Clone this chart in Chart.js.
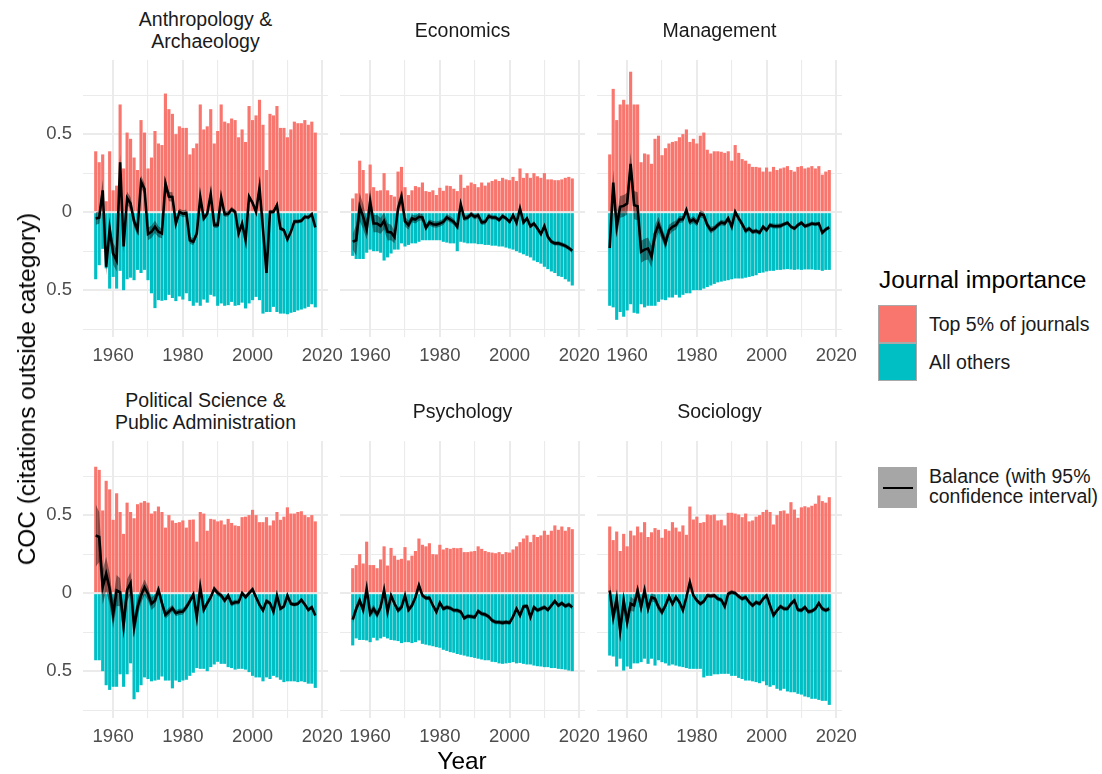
<!DOCTYPE html>
<html>
<head>
<meta charset="utf-8">
<script src="https://cdn.jsdelivr.net/npm/chart.js@4.4.1/dist/chart.umd.min.js"></script>
<style>
  body { margin: 0; background: #fff; font-family: "Liberation Sans", Arial, sans-serif; }
  #page { position: relative; width: 1102px; height: 774px; overflow: hidden; }
  .box { position: absolute; }
  .strip { position: absolute; text-align: center; font-size: 19.5px; line-height: 22px; color: #1a1a1a; white-space: nowrap; }
  .txt { position: absolute; white-space: nowrap; color: #1a1a1a; }
</style>
</head>
<body>
<div id="page"></div>
<script>
// categories and tick labels
var years = [1955,1956,1957,1958,1959,1960,1961,1962,1963,1964,1965,1966,1967,1968,1969,1970,
  1971,1972,1973,1974,1975,1976,1977,1978,1979,1980,1981,1982,1983,1984,1985,1986,1987,1988,1989,1990,
  1991,1992,1993,1994,1995,1996,1997,1998,1999,2000,2001,2002,2003,2004,2005,2006,2007,2008,2009,2010,
  2011,2012,2013,2014,2015,2016,2017,2018];
var xTicks = [1960, 1970, 1980, 1990, 2000, 2010, 2020];
var xTickLabels = ['1960', '', '1980', '', '2000', '', '2020'];
var yTicks = [-0.75, -0.5, -0.25, 0, 0.25, 0.5, 0.75];
var yTickLabels = ['', '0.5', '', '0', '', '0.5', ''];
var panelTitles = [['Anthropology &', 'Archaeology'], ['Economics'], ['Management'],
  ['Political Science &', 'Public Administration'], ['Psychology'], ['Sociology']];

// Anthropology & Archaeology
var anthroTop = [0.39,0.32,0.37,0.07,0.39,0.14,0.17,0.69,0.28,0.51,0.47,0.35,0.27,0.59,0.51,0.28,0.35,0.52,0.44,0.43,
  0.76,0.66,0.63,0.50,0.55,0.54,0.54,0.37,0.41,0.44,0.69,0.53,0.55,0.66,0.44,0.52,0.69,0.58,0.57,0.60,
  0.59,0.48,0.53,0.45,0.68,0.59,0.62,0.72,0.56,0.27,0.63,0.62,0.68,0.54,0.54,0.48,0.53,0.58,0.57,0.57,
  0.59,0.56,0.58,0.51];
var anthroOthers = [-0.43,-0.34,-0.235,-0.36,-0.49,-0.415,-0.49,-0.376,-0.50,-0.43,-0.42,-0.436,-0.37,-0.39,-0.37,-0.436,-0.52,-0.615,-0.564,-0.568,
  -0.564,-0.53,-0.55,-0.57,-0.54,-0.56,-0.52,-0.57,-0.60,-0.58,-0.60,-0.56,-0.58,-0.53,-0.54,-0.60,-0.585,-0.60,-0.596,-0.575,
  -0.60,-0.596,-0.58,-0.617,-0.585,-0.564,-0.543,-0.564,-0.65,-0.64,-0.64,-0.607,-0.64,-0.65,-0.65,-0.654,-0.645,-0.64,-0.63,-0.624,
  -0.617,-0.607,-0.59,-0.61];
var anthroBalance = [-0.04,-0.035,0.14,-0.35,-0.105,-0.265,-0.31,0.32,-0.22,0.09,0.055,-0.06,-0.115,0.195,0.15,-0.14,-0.126,-0.094,-0.126,-0.137,
  0.184,0.10,0.098,-0.073,0.002,-0.01,-0.005,-0.18,-0.19,-0.137,0.098,-0.04,-0.01,0.115,-0.083,-0.083,0.094,-0.013,-0.01,0.017,
  0.002,-0.137,-0.073,-0.18,0.10,0.06,0.002,0.158,-0.11,-0.39,0.002,0.002,0.045,-0.105,-0.115,-0.175,-0.126,-0.06,-0.06,-0.055,
  -0.03,-0.034,-0.013,-0.098];
var anthroCI = [0.04,0.04,0.07,0.055,0.04,0.07,0.07,0.055,0.04,0.04,0.04,0.035,0.035,0.04,0.035,0.04,0.04,0.04,0.035,0.03,
  0.04,0.03,0.03,0.022,0.022,0.022,0.022,0.022,0.022,0.022,0.018,0.018,0.018,0.018,0.018,0.018,0.018,0.018,0.018,0.018,
  0.015,0.015,0.015,0.015,0.015,0.015,0.015,0.015,0.015,0.015,0.013,0.013,0.013,0.013,0.013,0.013,0.013,0.013,0.013,0.013,
  0.013,0.013,0.013,0.013];

// Economics
var econTop = [0.088,0.12,0.33,0.27,0.12,0.305,0.16,0.137,0.14,0.25,0.14,0.11,0.10,0.26,0.29,0.16,0.11,0.14,0.167,0.16,
  0.19,0.135,0.13,0.14,0.11,0.156,0.137,0.17,0.167,0.15,0.135,0.24,0.156,0.17,0.19,0.18,0.16,0.19,0.17,0.19,
  0.20,0.21,0.20,0.22,0.21,0.205,0.226,0.20,0.28,0.22,0.25,0.22,0.25,0.23,0.22,0.25,0.21,0.21,0.205,0.205,
  0.21,0.22,0.226,0.216];
var econOthers = [-0.28,-0.30,-0.30,-0.30,-0.26,-0.24,-0.25,-0.25,-0.26,-0.31,-0.29,-0.265,-0.24,-0.24,-0.20,-0.22,-0.21,-0.20,-0.20,-0.19,
  -0.18,-0.18,-0.18,-0.18,-0.18,-0.18,-0.19,-0.195,-0.20,-0.20,-0.25,-0.19,-0.195,-0.20,-0.20,-0.20,-0.205,-0.205,-0.21,-0.21,
  -0.215,-0.215,-0.22,-0.22,-0.227,-0.233,-0.24,-0.25,-0.26,-0.27,-0.28,-0.29,-0.31,-0.32,-0.33,-0.35,-0.365,-0.38,-0.39,-0.41,
  -0.415,-0.43,-0.445,-0.47];
var econBalance = [-0.19,-0.18,0.034,-0.03,-0.11,0.066,-0.073,-0.073,-0.088,-0.056,-0.126,-0.13,-0.16,0.024,0.10,-0.06,-0.083,-0.04,-0.047,-0.03,
  -0.034,-0.10,-0.066,-0.077,-0.08,-0.073,-0.062,-0.034,-0.047,-0.062,-0.094,0.05,-0.04,-0.034,-0.013,-0.03,-0.02,-0.066,-0.062,-0.026,
  -0.034,-0.034,-0.05,-0.026,-0.04,-0.062,-0.02,-0.068,0.024,-0.066,-0.04,-0.09,-0.073,-0.105,-0.14,-0.09,-0.158,-0.19,-0.20,-0.20,
  -0.207,-0.216,-0.23,-0.248];
var econCI = [0.05,0.10,0.09,0.08,0.065,0.08,0.055,0.055,0.05,0.055,0.055,0.05,0.04,0.04,0.04,0.03,0.03,0.025,0.025,0.025,
  0.02,0.02,0.02,0.02,0.02,0.02,0.02,0.02,0.02,0.02,0.017,0.017,0.017,0.017,0.017,0.017,0.017,0.017,0.017,0.017,
  0.014,0.014,0.014,0.014,0.014,0.014,0.014,0.014,0.014,0.014,0.014,0.014,0.014,0.014,0.014,0.014,0.014,0.014,0.014,0.014,
  0.014,0.014,0.014,0.014];

// Management
var mgmtTop = [0.37,0.79,0.59,0.69,0.72,0.69,0.90,0.69,0.69,0.32,0.376,0.37,0.31,0.47,0.49,0.365,0.41,0.44,0.45,0.455,
  0.48,0.50,0.53,0.45,0.47,0.44,0.49,0.51,0.40,0.376,0.39,0.39,0.387,0.38,0.39,0.33,0.43,0.38,0.34,0.33,
  0.31,0.29,0.29,0.286,0.26,0.286,0.26,0.29,0.27,0.28,0.286,0.295,0.27,0.26,0.29,0.295,0.28,0.286,0.295,0.28,
  0.295,0.24,0.26,0.27];
var mgmtOthers = [-0.60,-0.61,-0.69,-0.64,-0.67,-0.63,-0.59,-0.645,-0.65,-0.59,-0.61,-0.60,-0.60,-0.60,-0.575,-0.56,-0.564,-0.547,-0.547,-0.53,
  -0.547,-0.53,-0.52,-0.52,-0.50,-0.50,-0.50,-0.49,-0.48,-0.47,-0.46,-0.45,-0.445,-0.44,-0.436,-0.43,-0.425,-0.425,-0.425,-0.42,
  -0.415,-0.41,-0.404,-0.39,-0.387,-0.38,-0.376,-0.376,-0.37,-0.37,-0.367,-0.365,-0.367,-0.37,-0.367,-0.37,-0.367,-0.367,-0.367,-0.37,
  -0.37,-0.376,-0.37,-0.37];
var mgmtBalance = [-0.23,0.19,-0.094,0.034,0.04,0.055,0.31,0.045,0.038,-0.254,-0.24,-0.233,-0.286,-0.137,-0.08,-0.137,-0.20,-0.115,-0.094,-0.083,
  -0.047,-0.045,0.013,-0.062,-0.047,-0.068,-0.01,-0.02,-0.083,-0.115,-0.105,-0.083,-0.066,-0.073,-0.04,-0.094,0.002,-0.04,-0.077,-0.12,
  -0.105,-0.126,-0.12,-0.132,-0.094,-0.115,-0.083,-0.09,-0.09,-0.088,-0.077,-0.068,-0.094,-0.105,-0.083,-0.068,-0.09,-0.083,-0.073,-0.077,
  -0.073,-0.132,-0.11,-0.098];
var mgmtCI = [0.05,0.08,0.07,0.07,0.07,0.07,0.07,0.09,0.09,0.07,0.07,0.07,0.07,0.055,0.05,0.04,0.04,0.035,0.03,0.03,
  0.022,0.022,0.022,0.022,0.022,0.022,0.022,0.022,0.022,0.022,0.018,0.018,0.018,0.018,0.018,0.018,0.018,0.018,0.018,0.018,
  0.015,0.015,0.015,0.015,0.015,0.015,0.015,0.015,0.015,0.015,0.013,0.013,0.013,0.013,0.013,0.013,0.013,0.013,0.013,0.013,
  0.013,0.013,0.013,0.013];

// Political Science & Public Administration
var polTop = [0.81,0.79,0.53,0.72,0.665,0.47,0.64,0.52,0.38,0.58,0.52,0.48,0.57,0.58,0.59,0.58,0.51,0.525,0.555,0.52,
  0.42,0.50,0.466,0.45,0.455,0.466,0.42,0.47,0.472,0.33,0.52,0.51,0.40,0.476,0.472,0.46,0.466,0.44,0.476,0.45,
  0.434,0.43,0.487,0.49,0.50,0.534,0.50,0.455,0.455,0.487,0.434,0.466,0.52,0.47,0.49,0.55,0.51,0.51,0.52,0.525,
  0.50,0.487,0.50,0.46];
var polOthers = [-0.43,-0.43,-0.50,-0.59,-0.62,-0.60,-0.60,-0.52,-0.60,-0.52,-0.45,-0.68,-0.635,-0.59,-0.54,-0.55,-0.565,-0.56,-0.555,-0.534,
  -0.56,-0.56,-0.61,-0.56,-0.57,-0.56,-0.555,-0.53,-0.51,-0.48,-0.485,-0.485,-0.50,-0.474,-0.457,-0.44,-0.453,-0.453,-0.474,-0.48,
  -0.49,-0.485,-0.485,-0.49,-0.506,-0.53,-0.54,-0.54,-0.565,-0.54,-0.55,-0.53,-0.54,-0.555,-0.57,-0.565,-0.565,-0.565,-0.57,-0.565,
  -0.57,-0.58,-0.58,-0.607];
var polBalance = [0.37,0.36,0.038,0.124,0.028,-0.137,0.017,0.006,-0.207,0.02,0.064,-0.218,-0.09,-0.015,0.038,-0.004,-0.068,-0.047,0.02,-0.064,
  -0.139,-0.118,-0.096,-0.128,-0.12,-0.118,-0.09,-0.051,-0.009,-0.154,0.038,-0.107,-0.064,-0.026,0.028,0.0,-0.015,-0.047,-0.015,-0.068,
  -0.058,-0.058,0.0,-0.026,0.0,0.024,-0.026,-0.075,-0.11,-0.051,-0.064,-0.12,-0.015,-0.10,-0.085,-0.015,-0.068,-0.073,-0.068,-0.043,
  -0.073,-0.107,-0.09,-0.143];
var polCI = [0.20,0.16,0.11,0.11,0.10,0.09,0.10,0.09,0.09,0.07,0.07,0.07,0.06,0.05,0.05,0.045,0.04,0.04,0.03,0.03,
  0.025,0.025,0.02,0.02,0.02,0.02,0.02,0.02,0.02,0.02,0.018,0.018,0.018,0.018,0.018,0.018,0.018,0.018,0.018,0.018,
  0.015,0.015,0.015,0.015,0.015,0.015,0.015,0.015,0.015,0.015,0.013,0.013,0.013,0.013,0.013,0.013,0.013,0.013,0.013,0.013,
  0.013,0.013,0.013,0.013];

// Psychology
var psyTop = [0.16,0.18,0.25,0.19,0.33,0.18,0.18,0.16,0.216,0.30,0.177,0.29,0.24,0.214,0.22,0.295,0.21,0.24,0.27,0.35,
  0.31,0.30,0.32,0.25,0.248,0.31,0.28,0.29,0.284,0.29,0.288,0.29,0.263,0.263,0.267,0.27,0.30,0.284,0.27,0.263,
  0.26,0.256,0.263,0.25,0.263,0.26,0.28,0.30,0.327,0.35,0.37,0.327,0.374,0.36,0.37,0.40,0.374,0.40,0.434,0.406,
  0.427,0.40,0.423,0.41];
var psyOthers = [-0.335,-0.29,-0.30,-0.30,-0.303,-0.314,-0.286,-0.303,-0.29,-0.28,-0.29,-0.30,-0.303,-0.307,-0.32,-0.314,-0.314,-0.32,-0.314,-0.303,
  -0.325,-0.33,-0.335,-0.34,-0.346,-0.35,-0.363,-0.37,-0.378,-0.382,-0.39,-0.395,-0.40,-0.406,-0.41,-0.415,-0.42,-0.425,-0.43,-0.43,
  -0.44,-0.442,-0.45,-0.453,-0.45,-0.447,-0.442,-0.45,-0.447,-0.453,-0.457,-0.457,-0.464,-0.468,-0.47,-0.474,-0.474,-0.48,-0.48,-0.485,
  -0.487,-0.49,-0.496,-0.50];
var psyBalance = [-0.17,-0.10,-0.047,-0.107,0.028,-0.132,-0.10,-0.137,-0.09,0.02,-0.12,-0.015,-0.068,-0.11,-0.09,-0.015,-0.107,-0.079,-0.026,0.05,
  -0.015,-0.032,-0.03,-0.079,-0.12,-0.062,-0.10,-0.09,-0.096,-0.11,-0.11,-0.12,-0.16,-0.147,-0.15,-0.154,-0.115,-0.132,-0.137,-0.15,
  -0.175,-0.186,-0.186,-0.19,-0.186,-0.19,-0.15,-0.10,-0.143,-0.085,-0.083,-0.154,-0.09,-0.11,-0.10,-0.09,-0.107,-0.079,-0.051,-0.079,
  -0.064,-0.083,-0.073,-0.09];
var psyCI = [0.025,0.025,0.025,0.025,0.025,0.025,0.025,0.025,0.025,0.025,0.018,0.018,0.018,0.018,0.018,0.018,0.018,0.018,0.018,0.018,
  0.014,0.014,0.014,0.014,0.014,0.014,0.014,0.014,0.014,0.014,0.014,0.014,0.014,0.014,0.014,0.014,0.014,0.014,0.014,0.014,
  0.014,0.014,0.014,0.014,0.014,0.014,0.014,0.014,0.014,0.014,0.014,0.014,0.014,0.014,0.014,0.014,0.014,0.014,0.014,0.014,
  0.014,0.014,0.014,0.014];

// Sociology
var socTop = [0.427,0.34,0.395,0.27,0.38,0.30,0.40,0.37,0.427,0.39,0.455,0.36,0.39,0.417,0.406,0.355,0.41,0.40,0.455,0.42,
  0.395,0.434,0.374,0.555,0.472,0.49,0.45,0.455,0.504,0.50,0.504,0.466,0.47,0.434,0.515,0.515,0.51,0.504,0.487,0.51,
  0.46,0.466,0.49,0.50,0.52,0.534,0.52,0.44,0.50,0.526,0.53,0.51,0.583,0.536,0.483,0.55,0.557,0.55,0.56,0.573,
  0.626,0.59,0.58,0.615];
var socOthers = [-0.40,-0.406,-0.47,-0.42,-0.496,-0.47,-0.485,-0.45,-0.45,-0.442,-0.42,-0.453,-0.42,-0.464,-0.43,-0.442,-0.45,-0.464,-0.457,-0.464,
  -0.47,-0.474,-0.48,-0.485,-0.485,-0.485,-0.485,-0.54,-0.53,-0.53,-0.52,-0.52,-0.517,-0.517,-0.517,-0.53,-0.53,-0.543,-0.55,-0.56,
  -0.56,-0.565,-0.57,-0.577,-0.565,-0.59,-0.60,-0.59,-0.613,-0.624,-0.613,-0.63,-0.635,-0.635,-0.645,-0.65,-0.662,-0.667,-0.677,-0.677,
  -0.684,-0.69,-0.69,-0.716];
var socBalance = [0.017,-0.154,-0.036,-0.24,-0.047,-0.186,-0.068,-0.079,0.017,-0.09,0.017,-0.10,-0.026,-0.036,-0.09,-0.122,-0.079,-0.021,-0.068,-0.026,
  -0.058,-0.11,-0.026,0.07,-0.015,-0.047,-0.068,-0.053,-0.015,-0.019,-0.015,-0.036,-0.043,-0.085,-0.004,0.006,0.0,-0.021,-0.036,-0.026,
  -0.058,-0.079,-0.058,-0.068,-0.036,-0.015,-0.079,-0.143,-0.11,-0.085,-0.10,-0.10,-0.068,-0.047,-0.107,-0.11,-0.09,-0.12,-0.115,-0.10,
  -0.064,-0.10,-0.11,-0.10];
var socCI = [0.05,0.05,0.065,0.065,0.05,0.05,0.045,0.04,0.04,0.04,0.032,0.032,0.026,0.026,0.022,0.022,0.02,0.02,0.018,0.018,
  0.014,0.014,0.014,0.014,0.014,0.014,0.014,0.014,0.014,0.014,0.014,0.014,0.014,0.014,0.014,0.014,0.014,0.014,0.014,0.014,
  0.014,0.014,0.014,0.014,0.014,0.014,0.014,0.014,0.014,0.014,0.014,0.014,0.014,0.014,0.014,0.014,0.014,0.014,0.014,0.014,
  0.014,0.014,0.014,0.014];

var panels = [
  { top: anthroTop, others: anthroOthers, balance: anthroBalance, ci: anthroCI },
  { top: econTop, others: econOthers, balance: econBalance, ci: econCI },
  { top: mgmtTop, others: mgmtOthers, balance: mgmtBalance, ci: mgmtCI },
  { top: polTop, others: polOthers, balance: polBalance, ci: polCI },
  { top: psyTop, others: psyOthers, balance: psyBalance, ci: psyCI },
  { top: socTop, others: socOthers, balance: socBalance, ci: socCI }
];

// layout of the facet grid (pixels)
var colLeft = [83, 340, 597];
var rowTop = [60, 441];
var panelW = 245, panelH = 277;
var fontFamily = '"Liberation Sans", Arial, sans-serif';
var gridColor = '#ebebeb';

var page = document.getElementById('page');

function addText(html, css) {
  var d = document.createElement('div');
  d.className = 'txt';
  d.innerHTML = html;
  Object.assign(d.style, css);
  page.appendChild(d);
  return d;
}

function pts(values) {
  return years.map(function (y, i) { return { x: y, y: values[i] }; });
}

panels.forEach(function (p, k) {
  var col = k % 3, row = Math.floor(k / 3);
  var yAxisW = col === 0 ? 50 : 0;
  var padR = 24, xAxisH = 36;

  var box = document.createElement('div');
  box.className = 'box';
  box.style.left = (colLeft[col] - yAxisW) + 'px';
  box.style.top = rowTop[row] + 'px';
  box.style.width = (yAxisW + panelW + padR) + 'px';
  box.style.height = (panelH + xAxisH) + 'px';
  var cv = document.createElement('canvas');
  box.appendChild(cv);
  page.appendChild(box);

  // strip title
  var lines = panelTitles[k];
  var s = document.createElement('div');
  s.className = 'strip';
  s.innerHTML = lines.join('<br>');
  s.style.left = colLeft[col] + 'px';
  s.style.width = panelW + 'px';
  s.style.top = (rowTop[row] - 30 - lines.length * 11) + 'px';
  page.appendChild(s);

  var lower = p.balance.map(function (v, i) { return v - p.ci[i]; });
  var upper = p.balance.map(function (v, i) { return v + p.ci[i]; });

  new Chart(cv.getContext('2d'), {
    type: 'bar',
    data: {
      datasets: [
        { label: 'Top 5% of journals', data: pts(p.top), backgroundColor: '#F8766D', borderWidth: 0,
          barPercentage: 0.9, categoryPercentage: 1.0, grouped: false, order: 3 },
        { label: 'All others', data: pts(p.others), backgroundColor: '#00BFC4', borderWidth: 0,
          barPercentage: 0.9, categoryPercentage: 1.0, grouped: false, order: 3 },
        { type: 'line', label: 'ci low', data: pts(lower), borderWidth: 0, pointRadius: 0, fill: false, order: 1 },
        { type: 'line', label: 'ci high', data: pts(upper), borderWidth: 0, pointRadius: 0,
          fill: '-1', backgroundColor: 'rgba(0,0,0,0.42)', order: 1 },
        { type: 'line', label: 'Balance', data: pts(p.balance), borderColor: '#000', borderWidth: 2.6,
          pointRadius: 0, fill: false, tension: 0, order: 0 }
      ]
    },
    options: {
      responsive: true,
      maintainAspectRatio: false,
      animation: false,
      events: [],
      layout: { padding: { left: 0, right: padR, top: 0, bottom: 0 } },
      plugins: { legend: { display: false }, tooltip: { enabled: false } },
      scales: {
        x: {
          type: 'linear', min: 1951.35, max: 2021.65, offset: false,
          afterBuildTicks: function (s) { s.ticks = xTicks.map(function (v) { return { value: v }; }); },
          afterFit: function (s) { s.height = xAxisH; s.paddingLeft = 0; s.paddingRight = 0; },
          border: { display: false },
          grid: { color: gridColor, drawTicks: false, offset: false,
                  lineWidth: function (c) { return xTickLabels[c.index] ? 2 : 1.1; } },
          ticks: { autoSkip: false, maxRotation: 0, padding: 8, color: '#4d4d4d',
                   font: { family: fontFamily, size: 18.5 },
                   callback: function (v, i) { return xTickLabels[i]; } }
        },
        y: {
          type: 'linear', min: -0.8, max: 0.975,
          afterBuildTicks: function (s) { s.ticks = yTicks.map(function (v) { return { value: v }; }); },
          afterFit: function (s) { s.width = yAxisW; s.paddingTop = 0; s.paddingBottom = 0; },
          border: { display: false },
          grid: { color: gridColor, drawTicks: false,
                  lineWidth: function (c) { return yTickLabels[c.index] ? 2 : 1.1; } },
          ticks: { display: col === 0, padding: 11, color: '#4d4d4d',
                   font: { family: fontFamily, size: 18.5 },
                   callback: function (v, i) { return yTickLabels[i]; } }
        }
      }
    }
  });
});

// axis titles
addText('Year', { left: '412px', width: '100px', textAlign: 'center', top: '747px', fontSize: '24.4px', color: '#000' });
addText('COC (citations outside category)', { left: '27px', top: '389px', fontSize: '24.4px', color: '#000',
  transform: 'translate(-50%, -50%) rotate(-90deg)' });

// legend
addText('Journal importance', { left: '879px', top: '266px', fontSize: '24.4px', color: '#000' });
var keys = [['#F8766D', 305, 'Top 5% of journals'], ['#00BFC4', 343, 'All others']];
keys.forEach(function (kk) {
  var d = document.createElement('div');
  Object.assign(d.style, { position: 'absolute', left: '878px', top: kk[1] + 'px', width: '39px', height: '38px',
    background: kk[0], border: '1px solid #a9a9a9', boxSizing: 'border-box' });
  page.appendChild(d);
  addText(kk[2], { left: '929px', top: (kk[1] + 8) + 'px', fontSize: '19.5px', lineHeight: '22px' });
});
var bk = document.createElement('div');
Object.assign(bk.style, { position: 'absolute', left: '878px', top: '467px', width: '39px', height: '41px', background: '#a6a6a6' });
page.appendChild(bk);
var bl = document.createElement('div');
Object.assign(bl.style, { position: 'absolute', left: '883px', top: '486.5px', width: '30px', height: '2.2px', background: '#000' });
page.appendChild(bl);
addText('Balance (with 95%<br>confidence interval)', { left: '929px', top: '467px', fontSize: '19.5px', lineHeight: '19.5px' });
</script>
</body>
</html>
